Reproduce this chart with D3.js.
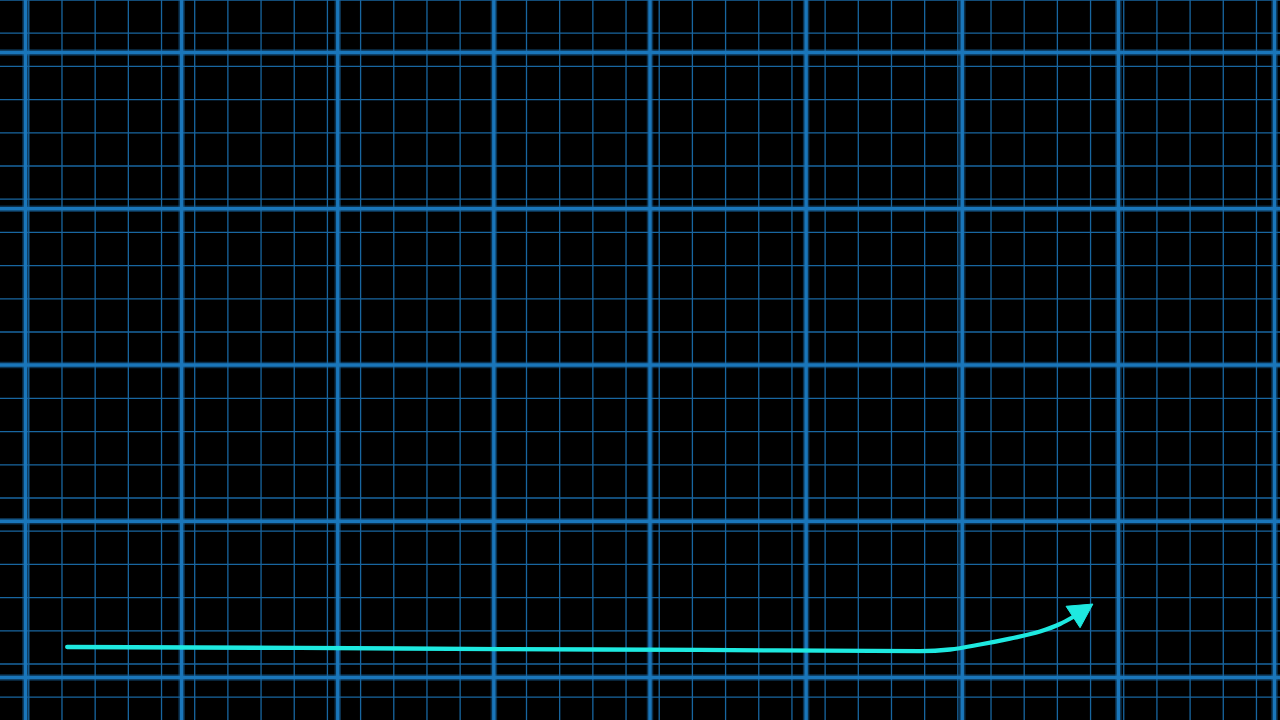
<!DOCTYPE html>
<html>
<head>
<meta charset="utf-8">
<script src="https://cdn.jsdelivr.net/npm/d3@7"></script>
<style>
  html, body { margin: 0; padding: 0; background: #000; overflow: hidden; }
  svg { display: block; }
</style>
</head>
<body>
<script>
// ---- data ----
// major grid ticks (x in units 0..80, y in units 0..40)
const majorXTicks = [0, 10, 20, 30, 40, 50, 60, 70, 80];
const majorYTicks = [0, 10, 20, 30, 40];
// minor grid ticks (independent fine grid, index units)
const minorXTicks = d3.range(-1, 40);
const minorYTicks = d3.range(0, 23);
// the trend line
const lineX = [2.7, 17.6, 30.4, 43.2, 57.33, 59.25, 61.17, 63.09, 65.01, 66.29, 67.13];
const lineY = [1.92, 1.86, 1.79, 1.73, 1.66, 1.76, 2.08, 2.46, 2.91, 3.39, 3.84];
const arrowTip = [68.4, 4.67];

const W = 1280, H = 720;
const svg = d3.select("body").append("svg").attr("width", W).attr("height", H);
svg.append("rect").attr("width", W).attr("height", H).attr("fill", "#000");

// scales
const x = d3.scaleLinear().domain([0, 80]).range([25, 1274]);
const y = d3.scaleLinear().domain([0, 40]).range([677, 52]);
const xm = d3.scaleLinear().domain([0, 1]).range([28.8, 28.8 + 33.18]);
const ym = d3.scaleLinear().domain([0, 1]).range([0, 33.2]);

// minor grid
const minorG = svg.append("g").attr("stroke", "#1866a0").attr("stroke-width", 1.3);
minorG.selectAll("line.vx").data(minorXTicks).join("line")
  .attr("class", "vx")
  .attr("x1", d => xm(d)).attr("x2", d => xm(d)).attr("y1", 0).attr("y2", H);
minorG.selectAll("line.hy").data(minorYTicks).join("line")
  .attr("class", "hy")
  .attr("y1", d => ym(d)).attr("y2", d => ym(d)).attr("x1", 0).attr("x2", W);

// major grid via axes (glow layer + core layer)
function majorGrid(width, color, opacity) {
  const gx = svg.append("g").attr("transform", `translate(0,${H})`)
    .call(d3.axisBottom(x).tickValues(majorXTicks).tickSize(-H).tickFormat(""));
  const gy = svg.append("g")
    .call(d3.axisRight(y).tickValues(majorYTicks).tickSize(W).tickFormat(""));
  [gx, gy].forEach(g => {
    g.select(".domain").remove();
    g.selectAll(".tick line").attr("stroke", color).attr("stroke-width", width).attr("stroke-opacity", opacity);
  });
}
majorGrid(6.5, "#155f99", 0.5);
majorGrid(3.4, "#1a76ba", 1);

// trend line
const pts = lineX.map((v, i) => [x(v), y(lineY[i])]);
const lineGen = d3.line().curve(d3.curveMonotoneX);
svg.append("path").attr("d", lineGen(pts))
  .attr("fill", "none").attr("stroke", "#1ee9e0").attr("stroke-width", 4.3)
  .attr("stroke-linecap", "round");

// arrowhead
const base = pts[pts.length - 1];
const tip = [x(arrowTip[0]), y(arrowTip[1])];
const dx = tip[0] - base[0], dy = tip[1] - base[1];
const len = Math.hypot(dx, dy);
const nx = -dy / len, ny = dx / len;
const hw = 12.8;
const tri = [tip, [base[0] + nx * hw, base[1] + ny * hw], [base[0] - nx * hw, base[1] - ny * hw]];
svg.append("path").attr("d", "M" + tri.map(p => p.join(",")).join("L") + "Z")
  .attr("fill", "#1ee9e0").attr("stroke", "#1ee9e0").attr("stroke-width", 1).attr("stroke-linejoin", "round");
</script>
</body>
</html>
